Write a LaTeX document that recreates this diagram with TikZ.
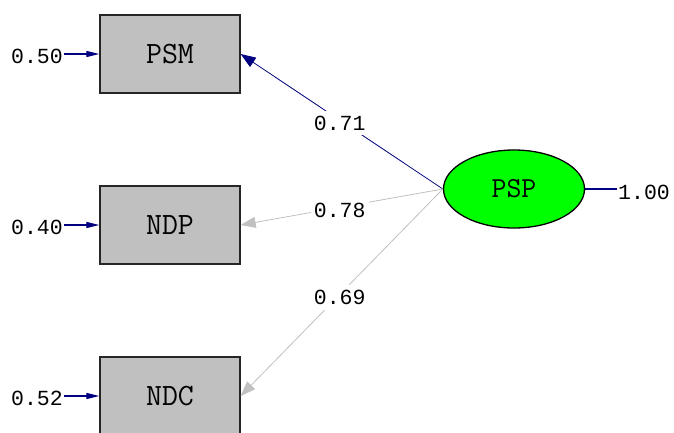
\documentclass[tikz,border=0pt]{standalone}
\usepackage{fontspec}
\newfontfamily\numfont{Liberation Mono}
\usetikzlibrary{arrows.meta,shapes.geometric}
\definecolor{navyline}{HTML}{000080}
\definecolor{grayline}{HTML}{C0C0C0}
\definecolor{boxgray}{HTML}{C0C0C0}
\definecolor{limefill}{HTML}{00FF00}
\begin{document}
\begin{tikzpicture}[x=1pt,y=-1pt,
  obs/.style={draw=black!85,line width=1.3pt,fill=boxgray,minimum width=140pt,minimum height=78pt,inner sep=0pt,font=\fontsize{31}{31}\selectfont\ttfamily},
  lat/.style={ellipse,draw=black,line width=1.3pt,fill=limefill,minimum width=141pt,minimum height=78pt,inner sep=0pt,font=\fontsize{29}{29}\selectfont\ttfamily},
  num/.style={font=\fontsize{21.5}{22}\selectfont\numfont,inner sep=1pt},
  lbl/.style={num,fill=white,inner xsep=3pt,inner ysep=5pt,yshift=-3pt},
  pathnavy/.style={draw=navyline,line width=0.8pt,-{Triangle[length=15pt,width=11pt]}},
  pathgray/.style={draw=grayline,line width=0.8pt,-{Triangle[length=15pt,width=11pt]}},
  errarrow/.style={draw=navyline,line width=1.2pt,-{Triangle[length=13pt,width=6pt]}},
  errline/.style={draw=navyline,line width=1.2pt}]
\useasboundingbox (0,0) rectangle (674,432);
\clip (0,0) rectangle (674,432);
\node[obs] (PSM) at (170,54) {PSM};
\node[obs] (NDP) at (170,225) {NDP};
\node[obs] (NDC) at (170,396) {NDC};
\node[lat] (PSP) at (514,189) {PSP};
\node[num] (e1) at (37,56) {0.50};
\node[num] (e2) at (37,227) {0.40};
\node[num] (e3) at (37,398) {0.52};
\node[num] (e4) at (644,192) {1.00};
\draw[errarrow] (e1.east |- PSM.west) -- (PSM.west);
\draw[errarrow] (e2.east |- NDP.west) -- (NDP.west);
\draw[errarrow] (e3.east |- NDC.west) -- (NDC.west);
\draw[errline] (PSP.east) -- (PSP.east -| e4.west);
\draw[pathnavy] (PSP.west) -- node[lbl,pos=0.51] (l1) {0.71} (PSM.east);
\draw[pathgray] (PSP.west) -- node[lbl,pos=0.51] (l2) {0.78} (NDP.east);
\draw[pathgray] (PSP.west) -- node[lbl,pos=0.51] (l3) {0.69} (NDC.east);
\end{tikzpicture}
\end{document}
